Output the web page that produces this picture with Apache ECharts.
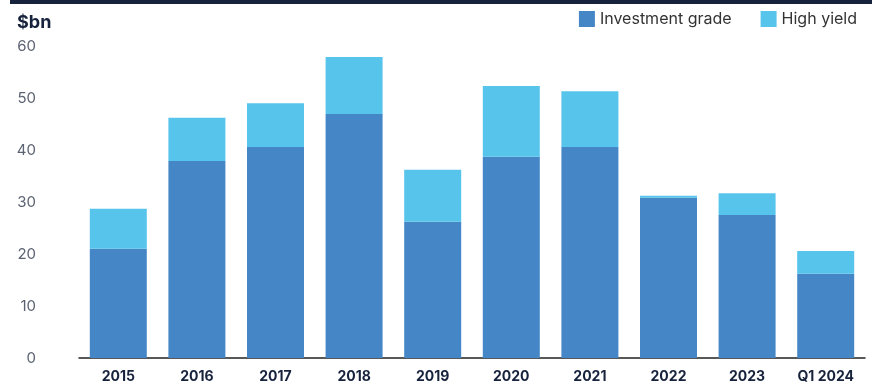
<!DOCTYPE html>
<html><head><meta charset="utf-8">
<script src="https://cdn.jsdelivr.net/npm/echarts@6/dist/echarts.min.js"></script>
<style>html,body{margin:0;padding:0;background:#fff}#c{width:872px;height:384px}</style>
</head><body><div id="c"></div>
<script>
const categories = ['2015','2016','2017','2018','2019','2020','2021','2022','2023','Q1 2024'];
const investmentGrade = [21.0, 37.9, 40.6, 46.9, 26.2, 38.7, 40.6, 30.8, 27.5, 16.2];
const highYield = [7.7, 8.3, 8.4, 11.0, 10.0, 13.6, 10.7, 0.4, 4.2, 4.4];
const yTicks = [0, 10, 20, 30, 40, 50, 60];

const chart = echarts.init(document.getElementById('c'), null, {renderer: 'canvas'});
chart.setOption({
  animation: false,
  textStyle: {fontFamily: 'Inter'},
  graphic: [
    {type: 'rect', left: 10, top: 0, shape: {width: 862, height: 4}, style: {fill: '#17233c'}},
    {type: 'text', left: 17, top: 14, style: {text: '$bn', font: 'bold 18px Inter', fill: '#17233c'}}
  ],
  legend: {
    right: 10, top: 6, itemWidth: 16, itemHeight: 16, itemGap: 29, icon: 'rect',
    textStyle: {fontSize: 16, color: '#333'},
    data: ['Investment grade', 'High yield']
  },
  grid: {left: 79, right: 7, top: 46, bottom: 26, containLabel: false},
  xAxis: {
    type: 'category', data: categories,
    axisTick: {show: false},
    axisLine: {lineStyle: {color: '#222', width: 1.5}},
    axisLabel: {fontSize: 14, fontWeight: 'bold', color: '#17233c', margin: 12}
  },
  yAxis: {
    type: 'value', min: yTicks[0], max: yTicks[yTicks.length - 1], interval: 10,
    splitLine: {show: false},
    axisLine: {show: false}, axisTick: {show: false},
    axisLabel: {fontSize: 15, color: '#5b6272', margin: 43}
  },
  series: [
    {name: 'Investment grade', type: 'bar', stack: 't', data: investmentGrade, barWidth: 57, itemStyle: {color: '#4587c6'}},
    {name: 'High yield', type: 'bar', stack: 't', data: highYield, barWidth: 57, itemStyle: {color: '#57c4eb'}}
  ]
});
</script></body></html>
